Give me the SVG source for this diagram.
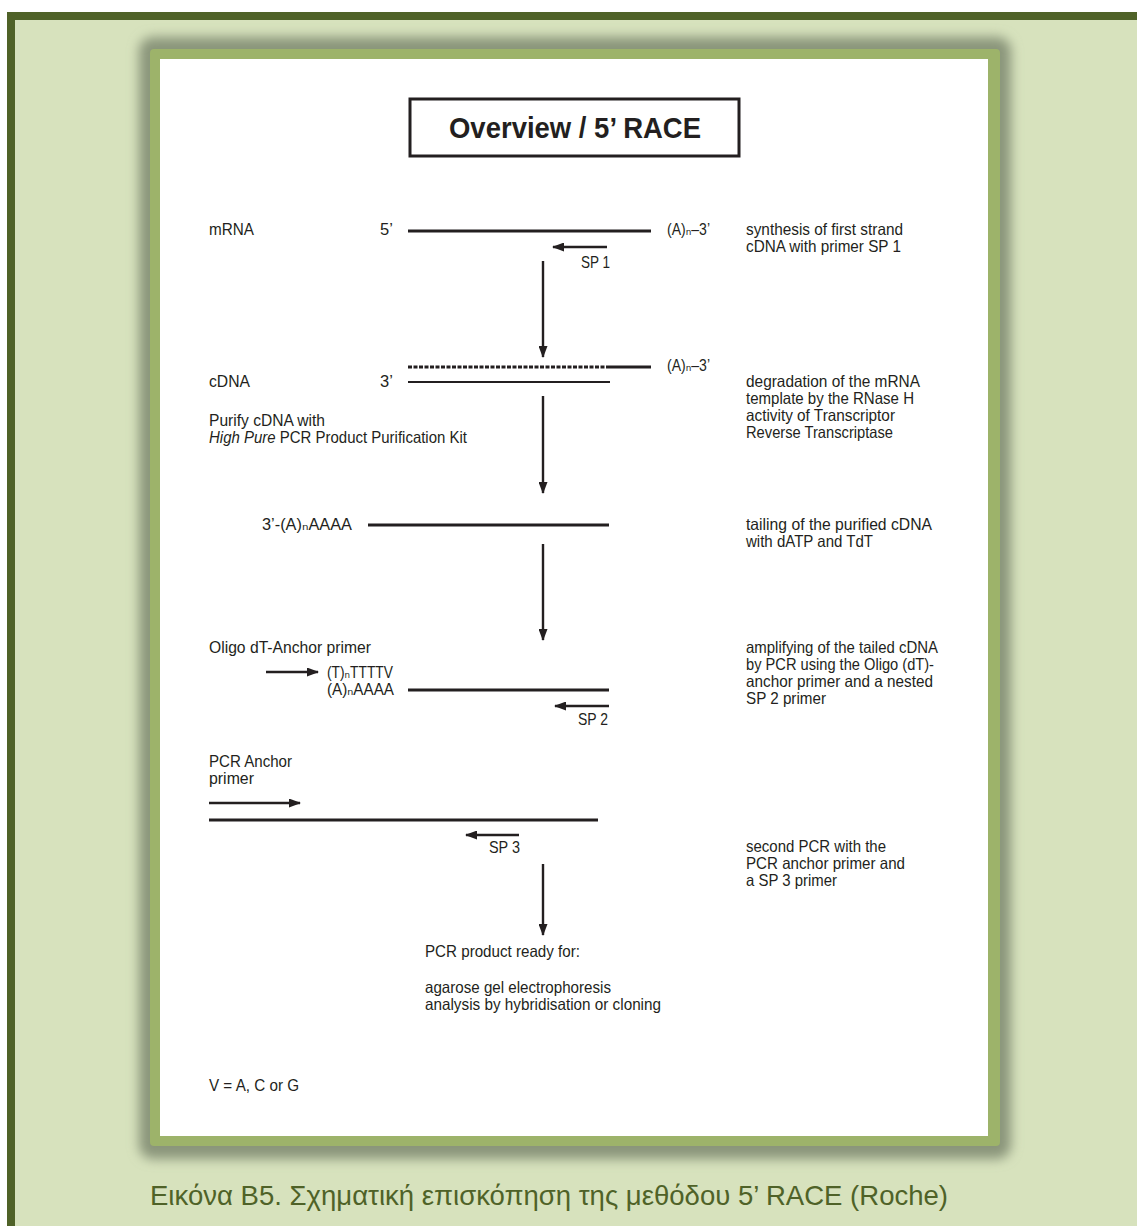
<svg xmlns="http://www.w3.org/2000/svg" width="1137" height="1226" viewBox="0 0 1137 1226">
<style>
.t{font-family:"Liberation Sans",Arial,"DejaVu Sans",sans-serif;font-size:16.5px;fill:#231f20;}
.ln{stroke:#231f20;stroke-width:2.8;fill:none;}
.thin{stroke:#231f20;stroke-width:1.8;fill:none;}
.ar{stroke:#231f20;stroke-width:2.4;fill:none;marker-end:url(#ah);}
.cap{font-family:"Liberation Sans",Arial,sans-serif;font-size:28px;fill:#4f6228;}
</style>
<defs>
<marker id="ah" viewBox="0 0 12 9" refX="11" refY="4.5" markerWidth="12" markerHeight="9" markerUnits="userSpaceOnUse" orient="auto">
<path d="M0,0 L12,4.5 L0,9 z" fill="#231f20"/>
</marker>
<filter id="sh" x="-10%" y="-10%" width="120%" height="120%">
<feGaussianBlur stdDeviation="6"/>
</filter>
</defs>
<rect x="0" y="0" width="1137" height="1226" fill="#ffffff"/>
<rect x="7" y="12" width="1130" height="1214" fill="#4f6228"/>
<rect x="15" y="20" width="1122" height="1206" fill="#d7e2bd"/>
<g id="page">
<rect x="139" y="37" width="872" height="1122" rx="14" fill="#8a957a" filter="url(#sh)"/>
<rect x="150" y="49" width="850" height="1097" rx="4" fill="#9db36a"/>
<rect x="160" y="59" width="828" height="1077" fill="#ffffff"/>
</g>
<g id="title">
<rect x="410" y="99" width="329" height="57" fill="none" stroke="#231f20" stroke-width="3"/>
<text x="449" y="138" class="t" style="font-size:30px;font-weight:bold" textLength="252" lengthAdjust="spacingAndGlyphs">Overview / 5’ RACE</text>
</g>
<g id="connectors">
<line class="ar" x1="543" y1="261" x2="543" y2="357"/>
<line class="ar" x1="543" y1="396" x2="543" y2="493"/>
<line class="ar" x1="543" y1="544" x2="543" y2="640"/>
<line class="ar" x1="543" y1="864" x2="543" y2="935"/>
</g>
<g id="mrna">
<text x="209" y="235" class="t" textLength="45" lengthAdjust="spacingAndGlyphs">mRNA</text>
<text x="380" y="235" class="t">5’</text>
<line class="ln" x1="408" y1="231" x2="651" y2="231"/>
<text x="667" y="235" class="t" textLength="43" lengthAdjust="spacingAndGlyphs">(A)ₙ–3’</text>
<line class="ar" x1="607" y1="247" x2="553" y2="247"/>
<text x="581" y="268" class="t" textLength="29" lengthAdjust="spacingAndGlyphs">SP 1</text>
<text x="746" y="235" class="t" textLength="157" lengthAdjust="spacingAndGlyphs">synthesis of first strand</text>
<text x="746" y="252" class="t" textLength="155" lengthAdjust="spacingAndGlyphs">cDNA with primer SP 1</text>
</g>
<g id="cdna">
<line x1="408" y1="367" x2="610" y2="367" stroke="#231f20" stroke-width="2.8" stroke-dasharray="4 1.5"/>
<line class="ln" x1="610" y1="367" x2="651" y2="367"/>
<text x="667" y="371" class="t" textLength="43" lengthAdjust="spacingAndGlyphs">(A)ₙ–3’</text>
<line class="thin" x1="408" y1="382" x2="610" y2="382"/>
<text x="209" y="387" class="t" textLength="41" lengthAdjust="spacingAndGlyphs">cDNA</text>
<text x="380" y="387" class="t">3’</text>
<text x="209" y="426" class="t" textLength="116" lengthAdjust="spacingAndGlyphs">Purify cDNA with</text>
<text x="209" y="443" class="t" textLength="258" lengthAdjust="spacingAndGlyphs"><tspan font-style="italic">High Pure</tspan> PCR Product Purification Kit</text>
<text x="746" y="387" class="t" textLength="174" lengthAdjust="spacingAndGlyphs">degradation of the mRNA</text>
<text x="746" y="404" class="t" textLength="168" lengthAdjust="spacingAndGlyphs">template by the RNase H</text>
<text x="746" y="421" class="t" textLength="149" lengthAdjust="spacingAndGlyphs">activity of Transcriptor</text>
<text x="746" y="438" class="t" textLength="147" lengthAdjust="spacingAndGlyphs">Reverse Transcriptase</text>
</g>
<g id="tailing">
<text x="262" y="530" class="t" textLength="90" lengthAdjust="spacingAndGlyphs">3’-(A)ₙAAAA</text>
<line class="ln" x1="368" y1="525" x2="609" y2="525"/>
<text x="746" y="530" class="t" textLength="186" lengthAdjust="spacingAndGlyphs">tailing of the purified cDNA</text>
<text x="746" y="547" class="t" textLength="127" lengthAdjust="spacingAndGlyphs">with dATP and TdT</text>
</g>
<g id="oligo">
<text x="209" y="653" class="t" textLength="162" lengthAdjust="spacingAndGlyphs">Oligo dT-Anchor primer</text>
<line class="ar" x1="266" y1="672" x2="318" y2="672"/>
<text x="327" y="678" class="t" textLength="66" lengthAdjust="spacingAndGlyphs">(T)ₙTTTTV</text>
<text x="327" y="695" class="t" textLength="67" lengthAdjust="spacingAndGlyphs">(A)ₙAAAA</text>
<line class="ln" x1="408" y1="690" x2="609" y2="690"/>
<line class="ar" x1="609" y1="706" x2="555" y2="706"/>
<text x="578" y="725" class="t" textLength="30" lengthAdjust="spacingAndGlyphs">SP 2</text>
<text x="746" y="653" class="t" textLength="192" lengthAdjust="spacingAndGlyphs">amplifying of the tailed cDNA</text>
<text x="746" y="670" class="t" textLength="188" lengthAdjust="spacingAndGlyphs">by PCR using the Oligo (dT)-</text>
<text x="746" y="687" class="t" textLength="187" lengthAdjust="spacingAndGlyphs">anchor primer and a nested</text>
<text x="746" y="704" class="t" textLength="80" lengthAdjust="spacingAndGlyphs">SP 2 primer</text>
</g>
<g id="pcr">
<text x="209" y="767" class="t" textLength="83" lengthAdjust="spacingAndGlyphs">PCR Anchor</text>
<text x="209" y="784" class="t" textLength="45" lengthAdjust="spacingAndGlyphs">primer</text>
<line class="ar" x1="209" y1="803" x2="300" y2="803"/>
<line class="ln" x1="209" y1="820" x2="598" y2="820"/>
<line class="ar" x1="519" y1="835" x2="466" y2="835"/>
<text x="489" y="853" class="t" textLength="31" lengthAdjust="spacingAndGlyphs">SP 3</text>
<text x="746" y="852" class="t" textLength="140" lengthAdjust="spacingAndGlyphs">second PCR with the</text>
<text x="746" y="869" class="t" textLength="159" lengthAdjust="spacingAndGlyphs">PCR anchor primer and</text>
<text x="746" y="886" class="t" textLength="91" lengthAdjust="spacingAndGlyphs">a SP 3 primer</text>
</g>
<g id="product">
<text x="425" y="957" class="t" textLength="155" lengthAdjust="spacingAndGlyphs">PCR product ready for:</text>
<text x="425" y="993" class="t" textLength="186" lengthAdjust="spacingAndGlyphs">agarose gel electrophoresis</text>
<text x="425" y="1010" class="t" textLength="236" lengthAdjust="spacingAndGlyphs">analysis by hybridisation or cloning</text>
</g>
<g id="note">
<text x="209" y="1091" class="t" textLength="90" lengthAdjust="spacingAndGlyphs">V = A, C or G</text>
</g>
<g id="caption">
<text x="150" y="1205" class="cap" textLength="798" lengthAdjust="spacingAndGlyphs">Εικόνα Β5. Σχηματική επισκόπηση της μεθόδου 5’ RACE (Roche)</text>
</g>
</svg>
